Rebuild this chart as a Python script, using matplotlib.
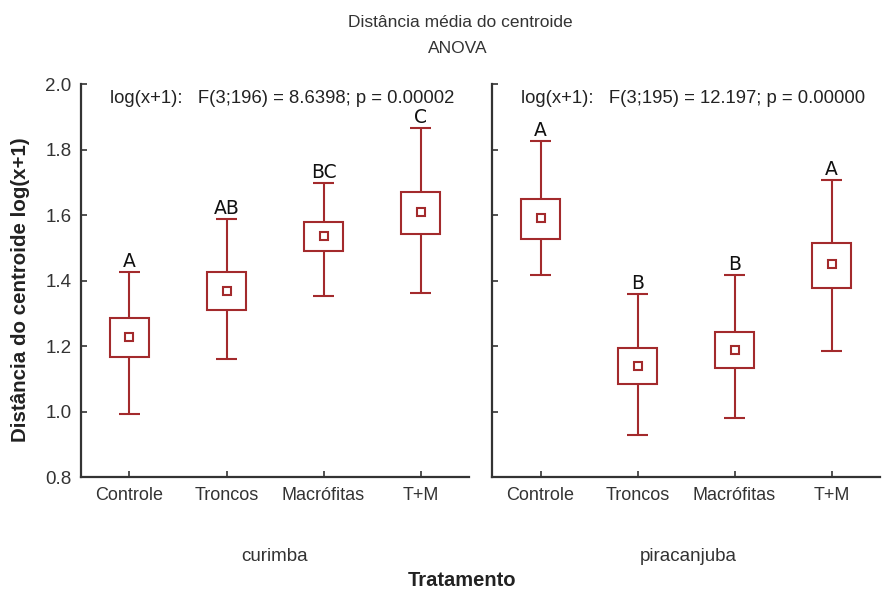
import numpy as np
import matplotlib.pyplot as plt

# data (log(x+1) scale)
categories = ["Controle", "Troncos", "Macrófitas", "T+M"]
species = ["curimba", "piracanjuba"]

curimba_mean = [1.227, 1.368, 1.536, 1.609]
curimba_box_lo = [1.166, 1.310, 1.490, 1.542]
curimba_box_hi = [1.285, 1.426, 1.579, 1.670]
curimba_wh_lo = [0.992, 1.160, 1.353, 1.362]
curimba_wh_hi = [1.426, 1.588, 1.697, 1.866]
curimba_letters = ["A", "AB", "BC", "C"]

pira_mean = [1.591, 1.139, 1.188, 1.450]
pira_box_lo = [1.527, 1.084, 1.133, 1.377]
pira_box_hi = [1.649, 1.194, 1.243, 1.514]
pira_wh_lo = [1.417, 0.928, 0.980, 1.185]
pira_wh_hi = [1.826, 1.359, 1.417, 1.707]
pira_letters = ["A", "B", "B", "A"]

anova_text = ["log(x+1):   F(3;196) = 8.6398; p = 0.00002",
              "log(x+1):   F(3;195) = 12.197; p = 0.00000"]

plt.rcParams['font.family'] = ['Liberation Sans', 'DejaVu Sans']
box_color = '#a32a2c'
axis_color = '#333333'
txt_color = '#333333'

fig = plt.figure(figsize=(8.86, 5.89), dpi=100)
ax1 = fig.add_axes([0.0914, 0.190, 0.438, 0.667])
ax2 = fig.add_axes([0.5553, 0.190, 0.438, 0.667])


def draw_panel(ax, mean, blo, bhi, wlo, whi, letters, txt, show_y):
    x = np.arange(len(categories))
    ax.vlines(x, wlo, blo, color=box_color, lw=1.5)
    ax.vlines(x, bhi, whi, color=box_color, lw=1.5)
    ax.hlines(wlo, x - 0.11, x + 0.11, color=box_color, lw=1.5)
    ax.hlines(whi, x - 0.11, x + 0.11, color=box_color, lw=1.5)
    ax.bar(x, np.array(bhi) - np.array(blo), bottom=blo, width=0.41,
           fill=False, edgecolor=box_color, lw=1.5)
    ax.plot(x, mean, ls='none', marker='s', ms=5.5, mfc='white',
            mec=box_color, mew=1.5)
    for xi, yi, lab in zip(x, whi, letters):
        ax.annotate(lab, (xi, yi), xytext=(0, 1), textcoords='offset points',
                    ha='center', va='bottom', fontsize=13.5,
                    family=['DejaVu Sans'], color='#111111')
    ax.text(0.075, 0.963, txt, transform=ax.transAxes, fontsize=13.3,
            ha='left', va='center', color='#222222')
    ax.set_xlim(-0.5, 3.5)
    ax.set_ylim(0.8, 2.0)
    ax.set_yticks(np.arange(0.8, 2.01, 0.2))
    ax.set_xticks(x)
    ax.set_xticklabels(categories, fontsize=13, color=txt_color)
    if show_y:
        ax.set_yticklabels(["%.1f" % v for v in np.arange(0.8, 2.01, 0.2)],
                           fontsize=13.5, color=txt_color)
    else:
        ax.set_yticklabels([])
    for s in ['top', 'right']:
        ax.spines[s].set_visible(False)
    for s in ['left', 'bottom']:
        ax.spines[s].set_color(axis_color)
        ax.spines[s].set_linewidth(1.6)
    ax.tick_params(direction='in', length=4, width=1.2, color=axis_color,
                   pad=7)


draw_panel(ax1, curimba_mean, curimba_box_lo, curimba_box_hi,
           curimba_wh_lo, curimba_wh_hi, curimba_letters, anova_text[0], True)
draw_panel(ax2, pira_mean, pira_box_lo, pira_box_hi,
           pira_wh_lo, pira_wh_hi, pira_letters, anova_text[1], False)

fig.text(0.519, 0.962, "Distância média do centroide", ha='center',
         va='center', fontsize=12.5, color=txt_color)
fig.text(0.517, 0.918, "ANOVA", ha='center', va='center', fontsize=12.5,
         color=txt_color)
fig.text(0.310, 0.055, species[0], ha='center', va='center', fontsize=13.5,
         color=txt_color)
fig.text(0.777, 0.055, species[1], ha='center', va='center', fontsize=13.5,
         color=txt_color)
fig.text(0.521, 0.015, "Tratamento", ha='center', va='center', fontsize=14.5,
         fontweight='bold', color='#222222')
fig.text(0.023, 0.508, "Distância do centroide log(x+1)", ha='center',
         va='center', rotation=90, fontsize=14.8, fontweight='bold',
         color='#222222')

fig.savefig("out.png", dpi=100)
